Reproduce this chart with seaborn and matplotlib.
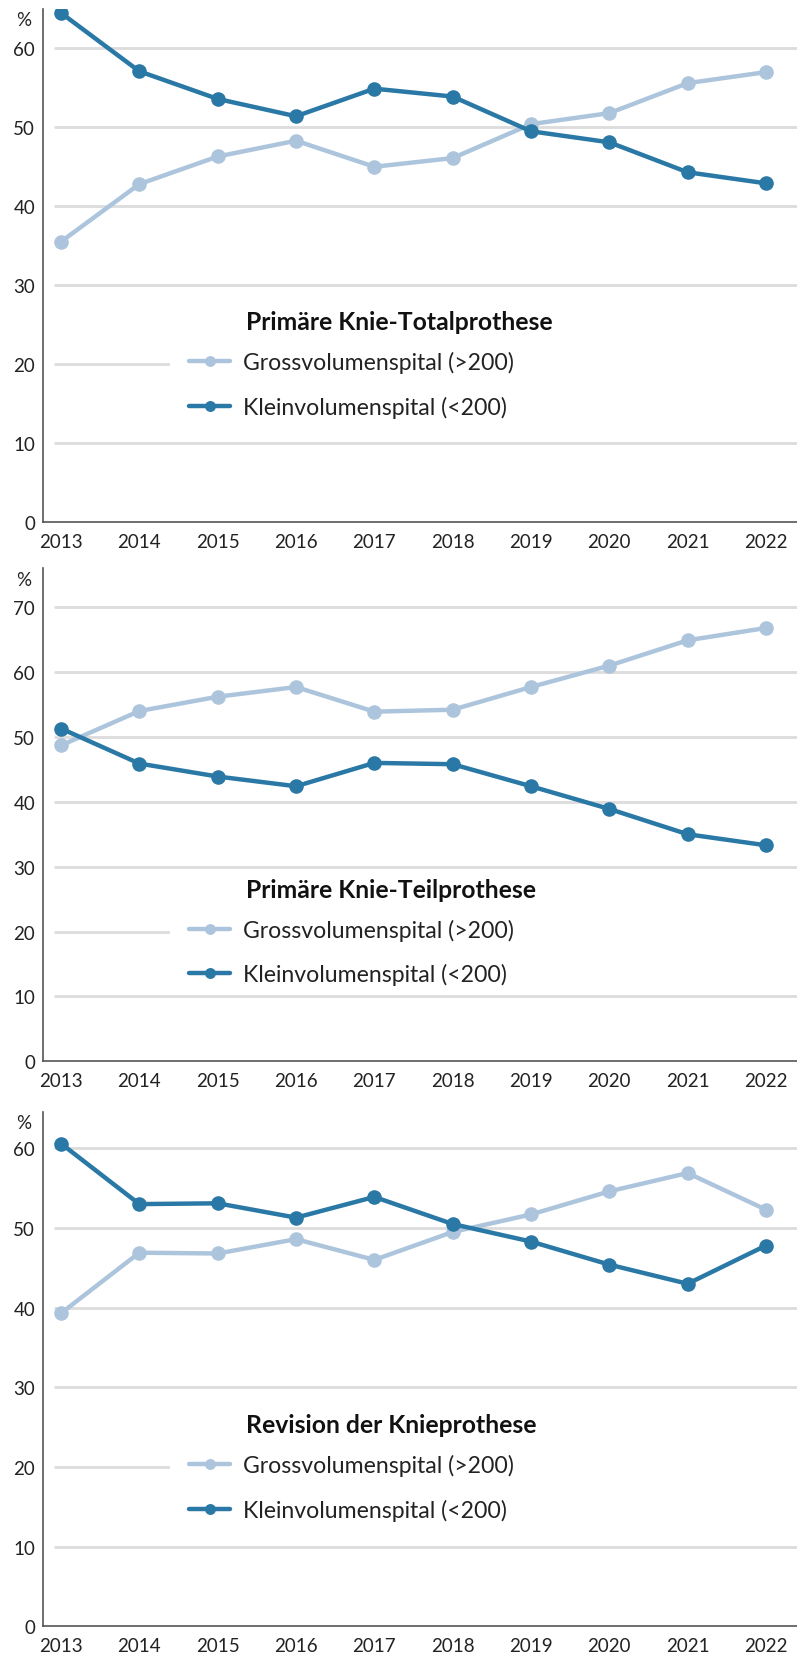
import numpy as np
import pandas as pd
import matplotlib
matplotlib.use("Agg")
import matplotlib.pyplot as plt
import matplotlib.transforms as mtransforms
from matplotlib.patches import Rectangle
import seaborn as sns

# ---------------- data ----------------
years = [2013, 2014, 2015, 2016, 2017, 2018, 2019, 2020, 2021, 2022]
series_labels = ["Grossvolumenspital (>200)", "Kleinvolumenspital (<200)"]
titles = ["Primäre Knie-Totalprothese", "Primäre Knie-Teilprothese", "Revision der Knieprothese"]

tp_gross = [35.5, 42.8, 46.3, 48.3, 45.0, 46.1, 50.4, 51.8, 55.6, 57.0]
tp_klein = [64.5, 57.1, 53.6, 51.4, 54.9, 53.9, 49.5, 48.1, 44.3, 42.9]

teil_gross = [48.7, 54.0, 56.2, 57.7, 53.9, 54.2, 57.7, 61.0, 64.9, 66.8]
teil_klein = [51.3, 45.9, 43.9, 42.4, 46.0, 45.8, 42.4, 38.9, 35.0, 33.3]

rev_gross = [39.3, 46.9, 46.8, 48.6, 46.0, 49.5, 51.7, 54.6, 56.9, 52.3]
rev_klein = [60.6, 53.0, 53.1, 51.3, 53.9, 50.5, 48.3, 45.4, 43.0, 47.8]

panel_gross = [tp_gross, teil_gross, rev_gross]
panel_klein = [tp_klein, teil_klein, rev_klein]
y_max = [65.0, 76.0, 64.6]
y_ticks = [[0, 10, 20, 30, 40, 50, 60],
           [0, 10, 20, 30, 40, 50, 60, 70],
           [0, 10, 20, 30, 40, 50, 60]]
legend_anchor_value = 20

# ---------------- style ----------------
LIGHT = "#adc5dc"
DARK = "#2a78a5"
GRID = "#dcdcdc"
AXIS = "#555555"
TEXT = "#222222"

sns.set_theme(style="white")
plt.rcParams["font.family"] = ["Lato", "DejaVu Sans"]
plt.rcParams["text.color"] = TEXT
plt.rcParams["xtick.color"] = TEXT
plt.rcParams["ytick.color"] = TEXT

W, H = 797, 1656
fig = plt.figure(figsize=(W / 100, H / 100), dpi=100)

# axes boxes in pixels: (top, bottom)
boxes = [(10, 522.7), (569.3, 1062.3), (1112.7, 1627.3)]
left_px = 43

for i in range(3):
    top, bot = boxes[i]
    ax = fig.add_axes([left_px / W, 1 - bot / H, (W - left_px) / W, (bot - top) / H])

    df = pd.DataFrame({
        "Jahr": years * 2,
        "Anteil": panel_gross[i] + panel_klein[i],
        "Spital": [series_labels[0]] * len(years) + [series_labels[1]] * len(years),
    })
    sns.lineplot(data=df, x="Jahr", y="Anteil", hue="Spital", hue_order=series_labels,
                 palette=[LIGHT, DARK], marker="o", markersize=10.5, markeredgewidth=0,
                 linewidth=3.2, ax=ax, legend=False, zorder=3)
    handles = list(ax.lines)

    ax.set_xlim(2012.77, 2022.396)
    ax.set_ylim(0, y_max[i])
    ax.set_xticks(years)
    ax.set_yticks(y_ticks[i])
    ax.set_xlabel("")
    ax.set_ylabel("")

    for t in y_ticks[i][1:]:
        ax.axhline(t, xmin=0.016, xmax=1, color=GRID, lw=2.0, zorder=1)

    # white legend background hiding the grid line behind the legend
    ax.add_patch(Rectangle((0.168, legend_anchor_value - 1.2), 0.9, 2.4,
                           transform=ax.get_yaxis_transform(), facecolor="white",
                           edgecolor="none", zorder=1.5, clip_on=False))

    for s in ["top", "right"]:
        ax.spines[s].set_visible(False)
    for s in ["left", "bottom"]:
        ax.spines[s].set_color(AXIS)
        ax.spines[s].set_linewidth(1.2)

    ax.tick_params(axis="x", length=0, pad=8, labelsize=13.5)
    ax.tick_params(axis="y", length=3.6, width=1, color=AXIS, pad=2, labelsize=13.5)

    ax.annotate("%", xy=(0, 1), xycoords="axes fraction", xytext=(-19, -11),
                textcoords="offset pixels", ha="center", va="center", fontsize=13.5)

    leg_tr = mtransforms.offset_copy(ax.get_yaxis_transform(), fig=fig, x=0, y=13, units="dots")
    leg = ax.legend(handles=handles, labels=series_labels, loc="upper left",
                    bbox_to_anchor=(0.1936, legend_anchor_value), bbox_transform=leg_tr,
                    frameon=False, borderpad=0, borderaxespad=0, handlelength=1.8,
                    handletextpad=0.55, labelspacing=0.98, fontsize=16.6, markerscale=0.75)
    for t in leg.get_texts():
        t.set_color(TEXT)

    title_tr = mtransforms.offset_copy(ax.get_yaxis_transform(), fig=fig, x=0, y=42, units="dots")
    ax.text(0.269, legend_anchor_value, titles[i], transform=title_tr, ha="left", va="center",
            fontsize=17.8, fontweight="bold", color="#111111")

fig.savefig("out.png", dpi=100)
